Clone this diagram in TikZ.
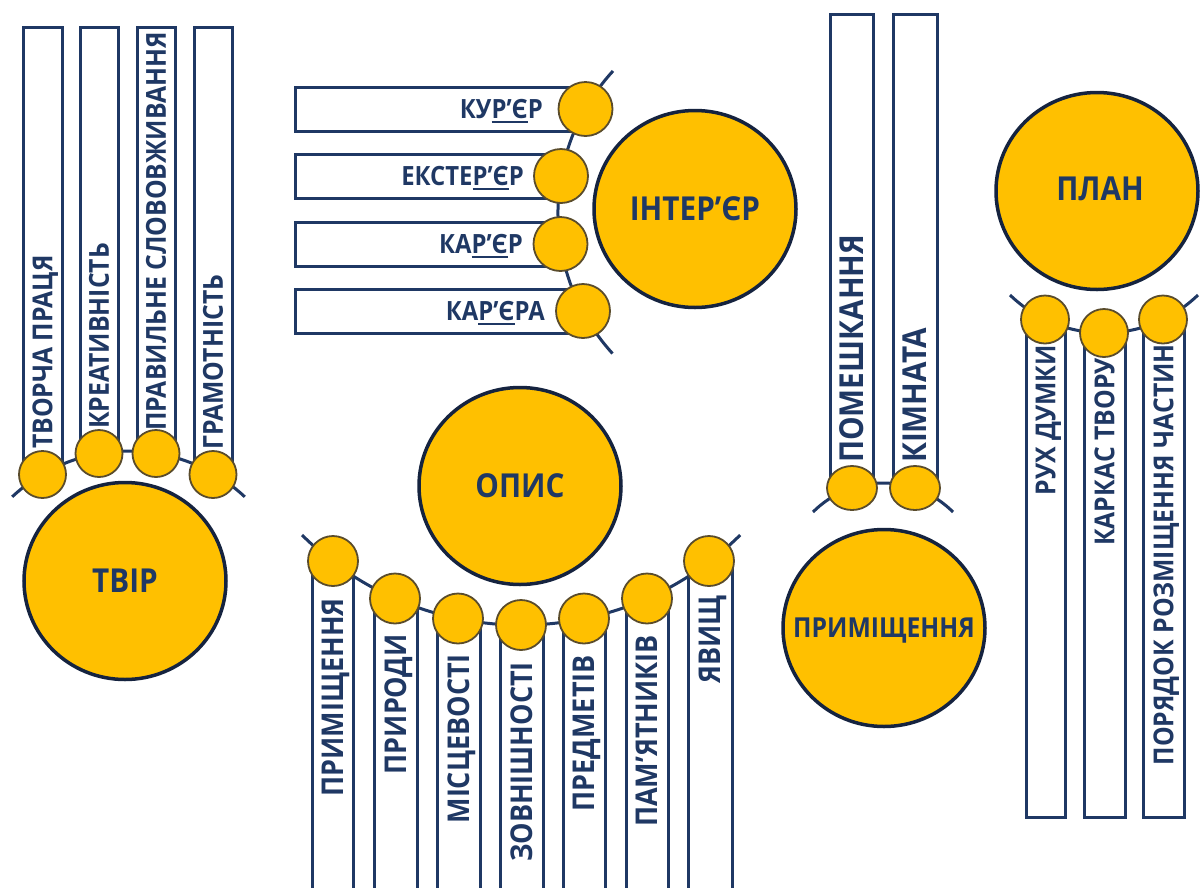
\documentclass[tikz,border=0pt]{standalone}
\usepackage{fontspec}
\setmainfont{Open Sans}[FakeStretch=0.9]
\usetikzlibrary{shapes.geometric}
\definecolor{gold}{HTML}{FFC000}
\definecolor{navy}{HTML}{1F3864}
\definecolor{deepnavy}{HTML}{15233F}
\definecolor{rim}{HTML}{5A4C2C}
\newcommand\ulpart[1]{\setbox0=\hbox{#1}\rlap{\color{navy}\rule[-4.5pt]{\wd0}{2.4pt}}\box0}
\tikzset{
  bigc/.style={ellipse, fill=gold, draw=deepnavy, line width=3.5pt, minimum width=202pt, minimum height=197pt, inner sep=0pt},
  bigt/.style={text=navy, inner sep=0pt, text depth=0pt, font=\bfseries\fontsize{#1}{#1}\selectfont},
  smallc/.style={circle, fill=gold, draw=rim, line width=1.8pt, minimum size=#1, inner sep=0pt},
  smalle/.style={ellipse, fill=gold, draw=rim, line width=1.8pt, minimum width=50pt, minimum height=44pt, inner sep=0pt},
  barbox/.style={draw=navy, line width=3pt, fill=white},
  arcline/.style={draw=navy, line width=3pt},
  vlab/.style={rotate=90, text=navy, inner sep=0pt, text depth=0pt, font=\bfseries\fontsize{#1}{#1}\selectfont},
  hlab/.style={text=navy, inner sep=0pt, text depth=0pt, anchor=east, font=\bfseries\fontsize{#1}{#1}\selectfont}
}
\begin{document}
\begin{tikzpicture}[x=1pt,y=-1pt]
\useasboundingbox (0,0) rectangle (1203,887);
\clip (0,0) rectangle (1203,887);
\fill[white] (0,0) rectangle (1203,887);

% ================= ТВІР =================
\coordinate (tvA) at (12.2,496.8);
\draw[arcline] (tvA) arc[start angle=-133, end angle=-47, radius=170.5];
\draw[barbox] (23,27) rectangle (62,474.5);
\draw[barbox] (80,27) rectangle (118,453.5);
\draw[barbox] (137,27) rectangle (175,453.5);
\draw[barbox] (194,27) rectangle (232,474.5);
\node[vlab=27.5, anchor=west] (tl1) at (42.5,449) {ТВОРЧА ПРАЦЯ};
\node[vlab=27.5, anchor=west] (tl2) at (99,429) {КРЕАТИВНІСТЬ};
\node[vlab=27.5, anchor=west] (tl3) at (156,431) {ПРАВИЛЬНЕ СЛОВОВЖИВАННЯ};
\node[vlab=27.5, anchor=west] (tl4) at (213,450) {ГРАМОТНІСТЬ};
\node[smallc=47pt] (tc1) at (42.5,474.5) {};
\node[smallc=47pt] (tc2) at (99,453.5) {};
\node[smallc=47pt] (tc3) at (156,453.5) {};
\node[smallc=47pt] (tc4) at (213,474.5) {};
\node[bigc] (tvir) at (125,581) {};
\node[bigt=33] (tvirt) at (tvir.center) {ТВІР};

% ================= ІНТЕР'ЄР =================
\coordinate (inA) at (612.5,353.5);
\draw[arcline] (inA) arc[start angle=137.7, end angle=222.5, radius=209.5];
\draw[barbox] (295,87) rectangle (585.5,131);
\draw[barbox] (295,154) rectangle (561,198);
\draw[barbox] (295,222) rectangle (560.5,266);
\draw[barbox] (295,289) rectangle (583,333);
\node[hlab=26.5] (il1) at (543,109) {КУ\ulpart{Р’Є}Р};
\node[hlab=26.5] (il2) at (524,176) {ЕКСТЕ\ulpart{Р’Є}Р};
\node[hlab=26.5] (il3) at (523,244) {КА\ulpart{Р’Є}Р};
\node[hlab=26.5] (il4) at (545,311) {КА\ulpart{Р’Є}РА};
\node[smallc=54pt] (ic1) at (585.5,109) {};
\node[smallc=54pt] (ic2) at (561,176) {};
\node[smallc=54pt] (ic3) at (560.5,244) {};
\node[smallc=54pt] (ic4) at (583,311) {};
\node[bigc] (inter) at (695,209) {};
\node[bigt=33] (intert) at (inter.center) {ІНТЕР’ЄР};

% ================= ОПИС =================
\coordinate (opA) at (302,535);
\draw[arcline] (opA) arc[start angle=134.7, end angle=45.3, radius=311.5];
\draw[barbox] (312,562) rectangle (353,900);
\draw[barbox] (374,598.5) rectangle (417,900);
\draw[barbox] (437,618.5) rectangle (480,900);
\draw[barbox] (500,625) rectangle (543,900);
\draw[barbox] (563,618.5) rectangle (605,900);
\draw[barbox] (626,598.5) rectangle (668,900);
\draw[barbox] (688,562) rectangle (732,900);
\node[vlab=30, anchor=east] (ol1) at (332.5,598) {ПРИМІЩЕННЯ};
\node[vlab=30, anchor=east] (ol2) at (395.5,634) {ПРИРОДИ};
\node[vlab=30, anchor=east] (ol3) at (458.5,654) {МІСЦЕВОСТІ};
\node[vlab=30, anchor=east] (ol4) at (521.5,662) {ЗОВНІШНОСТІ};
\node[vlab=30, anchor=east] (ol5) at (584,655) {ПРЕДМЕТІВ};
\node[vlab=30, anchor=east] (ol6) at (647,635) {ПАМ’ЯТНИКІВ};
\node[vlab=30, anchor=east] (ol7) at (710,595) {ЯВИЩ};
\node[smallc=50pt] (oc1) at (333,561) {};
\node[smallc=50pt] (oc2) at (395,598.5) {};
\node[smallc=50pt] (oc3) at (458,618.5) {};
\node[smallc=50pt] (oc4) at (521,625) {};
\node[smallc=50pt] (oc5) at (584,618.5) {};
\node[smallc=50pt] (oc6) at (647,598.5) {};
\node[smallc=50pt] (oc7) at (709,561) {};
\node[bigc] (opys) at (520,486) {};
\node[bigt=33] (opyst) at (opys.center) {ОПИС};

% ================= ПРИМІЩЕННЯ =================
\coordinate (prA) at (813,512);
\draw[arcline] (prA) arc[start angle=-135, end angle=-45, radius=99];
\draw[barbox] (830,14) rectangle (873,488);
\draw[barbox] (893,14) rectangle (937,488);
\node[vlab=33, anchor=west] (pl1) at (851.5,463) {ПОМЕШКАННЯ};
\node[vlab=33, anchor=west] (pl2) at (915,463) {КІМНАТА};
\node[smalle] (pc1) at (852,488) {};
\node[smalle] (pc2) at (915,488) {};
\node[bigc] (prym) at (884,628) {};
\node[bigt=27.5] (prymt) at (prym.center) {ПРИМІЩЕННЯ};

% ================= ПЛАН =================
\coordinate (plA) at (1010,295);
\draw[arcline] (plA) arc[start angle=134, end angle=46, radius=135.3];
\draw[barbox] (1026,319.5) rectangle (1065,817);
\draw[barbox] (1084,333) rectangle (1125,817);
\draw[barbox] (1143,319.5) rectangle (1184,817);
\node[vlab=27.5, anchor=east] (nl1) at (1045.5,345) {РУХ ДУМКИ};
\node[vlab=27.5, anchor=east] (nl2) at (1104.5,358) {КАРКАС ТВОРУ};
\node[vlab=27.5, anchor=east] (nl3) at (1163.5,344) {ПОРЯДОК РОЗМІЩЕННЯ ЧАСТИН};
\node[smallc=48pt] (nc1) at (1045,319.5) {};
\node[smallc=48pt] (nc2) at (1104,333) {};
\node[smallc=48pt] (nc3) at (1163,319.5) {};
\node[bigc] (plan) at (1097,191) {};
\node[bigt=33] (plant) at (1100,189) {ПЛАН};
\end{tikzpicture}
\end{document}
